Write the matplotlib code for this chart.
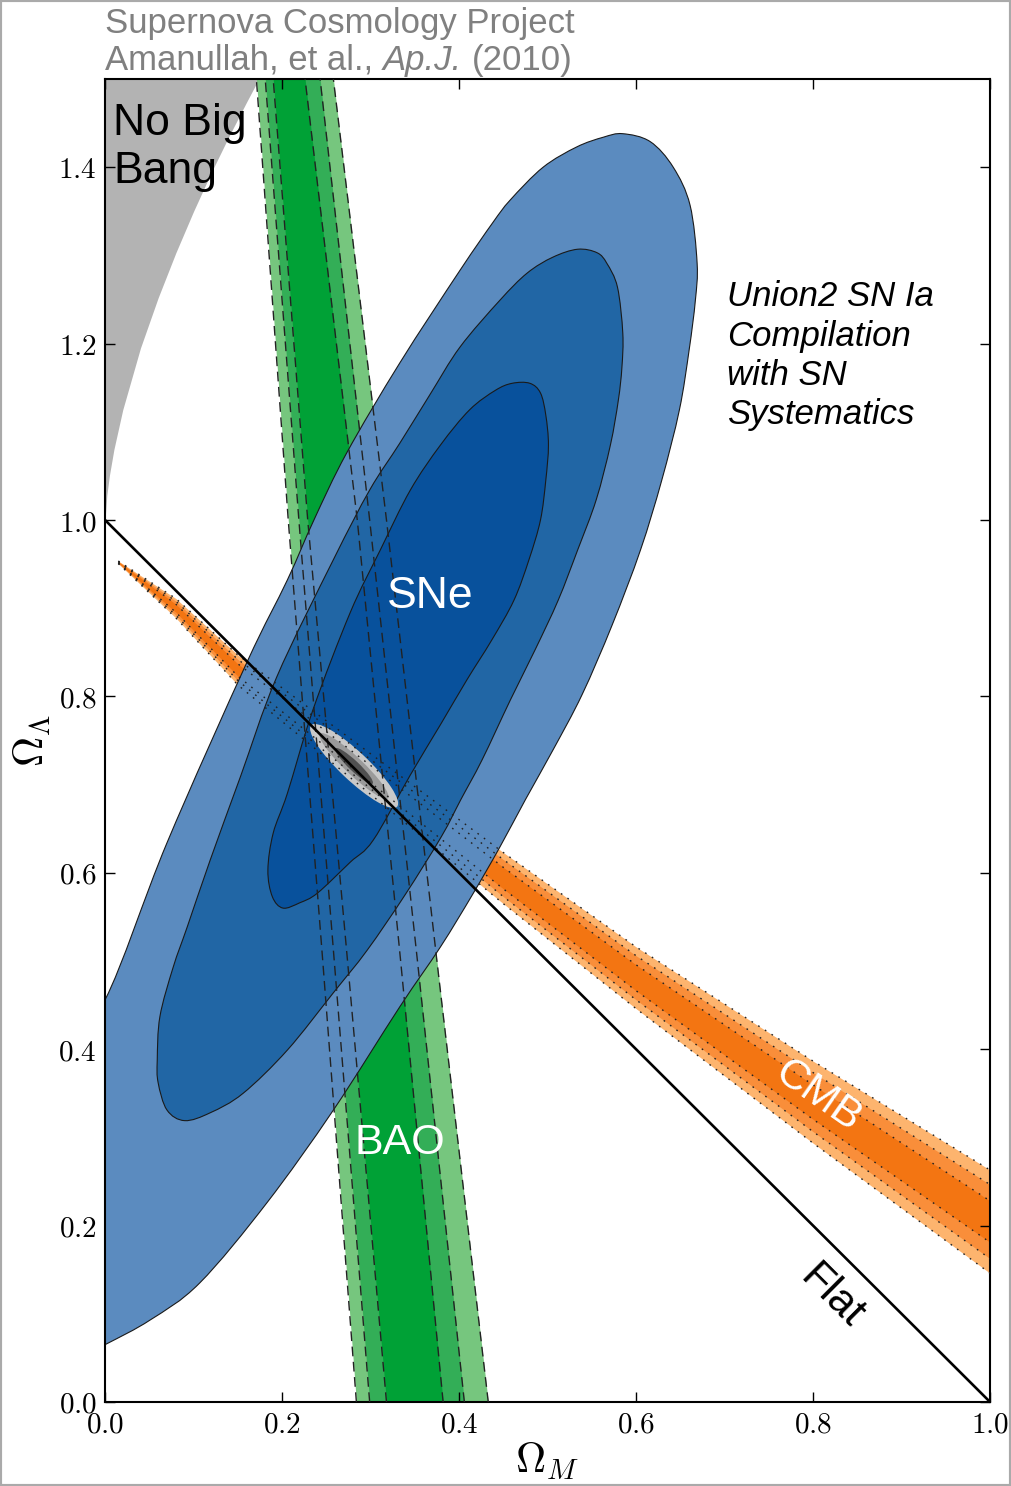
import matplotlib
matplotlib.use("Agg")
import matplotlib.pyplot as plt
from matplotlib.patches import Ellipse, Rectangle, PathPatch
from matplotlib.path import Path

plt.rcParams['font.family'] = ['Liberation Sans', 'DejaVu Sans']
plt.rcParams['mathtext.fontset'] = 'cm'

# ---------------------------------------------------------------- data
x_ticks = [0.0, 0.2, 0.4, 0.6, 0.8, 1.0]
x_tick_labels = ['0.0', '0.2', '0.4', '0.6', '0.8', '1.0']
y_ticks = [0.0, 0.2, 0.4, 0.6, 0.8, 1.0, 1.2, 1.4]
y_tick_labels = ['0.0', '0.2', '0.4', '0.6', '0.8', '1.0', '1.2', '1.4']

# "No Big Bang" boundary
nbb_m = [0.0, 0.002, 0.005, 0.01, 0.02, 0.04, 0.06, 0.08, 0.10, 0.12, 0.14, 0.16, 0.18]
nbb_l = [1.0, 1.028, 1.051, 1.080, 1.125, 1.195, 1.252, 1.303, 1.350, 1.394, 1.435, 1.474, 1.512]

# BAO band edges (Omega_M) at given Omega_Lambda levels
bao_l = [0.0, 0.5, 1.0, 1.5]
bao_light_left = [0.284, 0.246, 0.207, 0.171]
bao_light_right = [0.433, 0.375, 0.318, 0.258]
bao_mid_left = [0.299, 0.259, 0.219, 0.181]
bao_mid_right = [0.406, 0.353, 0.299, 0.243]
bao_dark_left = [0.318, 0.274, 0.229, 0.190]
bao_dark_right = [0.382, 0.334, 0.285, 0.226]

# CMB band: centre line and half-widths of the three levels
cmb_m = [0.015, 0.08, 0.15, 0.30, 0.45, 0.60, 0.80, 1.0]
cmb_center = [0.952, 0.900, 0.830, 0.712, 0.594, 0.481, 0.340, 0.2045]
cmb_half_light = [0.0015, 0.011, 0.017, 0.023, 0.029, 0.035, 0.0465, 0.0585]
cmb_half_mid = [0.0010, 0.008, 0.012, 0.0165, 0.021, 0.025, 0.0335, 0.042]
cmb_half_dark = [0.0006, 0.0046, 0.007, 0.0097, 0.0122, 0.0147, 0.0195, 0.0235]

# SN Ia confidence contours (99.7%, 95.4%, 68.3%)
sn_outer_m = [0.585, 0.616, 0.642, 0.661, 0.669, 0.667, 0.660, 0.649, 0.629, 0.605,
              0.573, 0.539, 0.506, 0.475, 0.446, 0.415, 0.379, 0.333, 0.258, 0.183,
              0.107, 0.051, 0.0, -0.05, -0.08, -0.05, 0.0, 0.070, 0.160, 0.206,
              0.236, 0.273, 0.333, 0.401, 0.438, 0.458, 0.495, 0.533, 0.563]
sn_outer_l = [1.438, 1.429, 1.400, 1.357, 1.291, 1.249, 1.193, 1.125, 1.045, 0.966,
              0.881, 0.802, 0.739, 0.683, 0.629, 0.575, 0.516, 0.448, 0.331, 0.226,
              0.135, 0.093, 0.065, 0.04, 0.25, 0.40, 0.456, 0.634, 0.838, 0.932,
              1.000, 1.076, 1.178, 1.283, 1.337, 1.363, 1.400, 1.423, 1.434]

sn_mid_m = [0.534, 0.556, 0.567, 0.579, 0.585, 0.584, 0.580, 0.571, 0.555, 0.534,
            0.512, 0.486, 0.458, 0.426, 0.402, 0.380, 0.339, 0.296, 0.258, 0.206,
            0.156, 0.119, 0.090, 0.070, 0.060, 0.059, 0.062, 0.077, 0.093, 0.119,
            0.153, 0.194, 0.258, 0.299, 0.333, 0.367, 0.401, 0.446, 0.477, 0.506]
sn_mid_l = [1.307, 1.303, 1.291, 1.264, 1.212, 1.173, 1.136, 1.085, 1.023, 0.966,
            0.909, 0.853, 0.796, 0.728, 0.683, 0.641, 0.575, 0.512, 0.464, 0.399,
            0.350, 0.328, 0.319, 0.331, 0.362, 0.388, 0.437, 0.493, 0.539, 0.615,
            0.709, 0.822, 0.955, 1.034, 1.087, 1.142, 1.196, 1.249, 1.280, 1.298]

sn_inner_m = [0.460, 0.480, 0.492, 0.498, 0.501, 0.498, 0.492, 0.479, 0.462, 0.437,
              0.409, 0.379, 0.345, 0.303, 0.277, 0.240, 0.220, 0.201, 0.189, 0.184,
              0.190, 0.206, 0.235, 0.277, 0.311, 0.345, 0.379, 0.412, 0.441]
sn_inner_l = [1.155, 1.155, 1.144, 1.119, 1.085, 1.045, 1.000, 0.955, 0.909, 0.864,
              0.819, 0.768, 0.711, 0.637, 0.612, 0.577, 0.566, 0.560, 0.573, 0.603,
              0.645, 0.690, 0.785, 0.895, 0.966, 1.034, 1.085, 1.125, 1.147]

# Combined SN + BAO + CMB constraint
comb_center = (0.2814, 0.7211)
comb_angle = -43.6
comb_width = [0.134, 0.106, 0.058]
comb_height = [0.032, 0.020, 0.0114]

# Flat universe line
flat_m = [0.0, 1.0]
flat_l = [1.0, 0.0]


def closed_smooth_path(xs, ys):
    """Closed cubic path passing through every listed vertex (Catmull-Rom)."""
    pts = list(zip(xs, ys))
    n = len(pts)
    verts = [pts[0]]
    codes = [Path.MOVETO]
    for i in range(n):
        p0 = pts[(i - 1) % n]
        p1 = pts[i]
        p2 = pts[(i + 1) % n]
        p3 = pts[(i + 2) % n]
        c1 = (p1[0] + (p2[0] - p0[0]) / 6.0, p1[1] + (p2[1] - p0[1]) / 6.0)
        c2 = (p2[0] - (p3[0] - p1[0]) / 6.0, p2[1] - (p3[1] - p1[1]) / 6.0)
        verts += [c1, c2, p2]
        codes += [Path.CURVE4] * 3
    verts.append(pts[0])
    codes.append(Path.CLOSEPOLY)
    return Path(verts, codes)


# ---------------------------------------------------------------- figure
fig = plt.figure(figsize=(10.11, 14.86), dpi=100)
ax = fig.add_axes([0.1039, 0.05653, 0.8754, 0.8903])
ax.set_xlim(0, 1)
ax.set_ylim(0, 1.5)

# No Big Bang region
ax.fill_between(nbb_m, nbb_l, 2.0, color='#B3B3B3', lw=0, zorder=1)

# BAO band
green = ['#76C67E', '#33AE57', '#00A136']
for (lft, rgt), col in zip([(bao_light_left, bao_light_right),
                            (bao_mid_left, bao_mid_right),
                            (bao_dark_left, bao_dark_right)], green):
    ax.fill_betweenx(bao_l, lft, rgt, color=col, lw=0, zorder=1)

# CMB band
orange = ['#FDB46E', '#F98E3A', '#F37512']
for half, col in zip([cmb_half_light, cmb_half_mid, cmb_half_dark], orange):
    lo = [c - h for c, h in zip(cmb_center, half)]
    hi = [c + h for c, h in zip(cmb_center, half)]
    ax.fill_between(cmb_m, lo, hi, color=col, lw=0, zorder=1)

# SN contours
blues = ['#5B8BBF', '#2166A5', '#08519C']
for (mm, ll), col in zip([(sn_outer_m, sn_outer_l), (sn_mid_m, sn_mid_l),
                          (sn_inner_m, sn_inner_l)], blues):
    ax.add_patch(PathPatch(closed_smooth_path(mm, ll), facecolor=col,
                           edgecolor='#1a1a1a', lw=0.8, zorder=2))

# Combined contour
for w, h, col in zip(comb_width, comb_height, ['#C9C9C9', '#9A9A9A', '#505050']):
    ax.add_patch(Ellipse(comb_center, w, h, angle=comb_angle, facecolor=col,
                         edgecolor='none', zorder=3))

# BAO dashed contour lines
for edge in [bao_light_left, bao_mid_left, bao_dark_left,
             bao_dark_right, bao_mid_right, bao_light_right]:
    ax.plot(edge, bao_l, color='#222222', lw=1.0, ls=(0, (7, 4)), zorder=4)

# CMB dotted contour lines
for half in [cmb_half_light, cmb_half_mid, cmb_half_dark]:
    for sgn in (-1, 1):
        ax.plot(cmb_m, [c + sgn * h for c, h in zip(cmb_center, half)],
                color='#222222', lw=1.0, ls=(0, (1.2, 4.5)), zorder=4)

# Flat line
ax.plot(flat_m, flat_l, color='black', lw=1.9, zorder=5)

# ---------------------------------------------------------------- labels
ax.text(0.009, 1.4365, 'No Big', fontsize=32, color='black', va='baseline', zorder=6)
ax.text(0.009, 1.382, 'Bang', fontsize=32, color='black', va='baseline', zorder=6)
ax.text(0.368, 0.900, 'SNe', fontsize=32, color='white', ha='center', va='baseline', zorder=6)
ax.text(0.333, 0.281, 'BAO', fontsize=31, color='white', ha='center', va='baseline', zorder=6)
ax.text(0.806, 0.346, 'CMB', fontsize=31, color='white', ha='center', va='center',
        rotation=-35, rotation_mode='anchor', zorder=6)
ax.text(0.821, 0.120, 'Flat', fontsize=31, color='black', ha='center', va='center',
        rotation=-45, rotation_mode='anchor', zorder=6)

union_lines = ['Union2 SN Ia', 'Compilation', 'with SN', 'Systematics']
union_y = [1.243, 1.197, 1.153, 1.109]
for txt, yy in zip(union_lines, union_y):
    ax.text(0.703, yy, txt, fontsize=25, style='italic', color='black',
            va='baseline', zorder=6)

# Axes styling
ax.set_xticks(x_ticks)
ax.set_yticks(y_ticks)
ax.set_xticklabels(['$' + t + '$' for t in x_tick_labels])
ax.set_yticklabels(['$' + t + '$' for t in y_tick_labels])
ax.tick_params(direction='in', length=7, width=1, top=True, right=True,
               labelsize=21, pad=6)
for sp in ax.spines.values():
    sp.set_linewidth(1.5)
ax.set_xlabel(r'$\Omega_M$', fontsize=30, labelpad=2)
ax.set_ylabel(r'$\Omega_\Lambda$', fontsize=30, labelpad=4)

# Header
head_col = '#808080'
head_size = 25
hx = 105 / 1011
fig.text(hx, 1 - 33 / 1486, 'Supernova Cosmology Project', fontsize=head_size,
         color=head_col, va='baseline')
y2 = 1 - 70 / 1486
t_a = fig.text(hx, y2, 'Amanullah, et al.,', fontsize=head_size, color=head_col,
               va='baseline')
fig.canvas.draw()
renderer = fig.canvas.get_renderer()
space_px = 0.278 * head_size * 100 / 72
bb = t_a.get_window_extent(renderer)
t_b = fig.text((bb.x1 + space_px) / fig.bbox.width, y2, 'Ap.J.', fontsize=head_size,
               style='italic', color=head_col, va='baseline')
bb = t_b.get_window_extent(renderer)
fig.text((bb.x1 + space_px) / fig.bbox.width, y2, '(2010)', fontsize=head_size,
         color=head_col, va='baseline')

# Figure frame
fig.patches.append(Rectangle((0, 0), 1, 1, transform=fig.transFigure, fill=False,
                             edgecolor='#AAAAAA', lw=3))

fig.savefig('out.png', dpi=100)
